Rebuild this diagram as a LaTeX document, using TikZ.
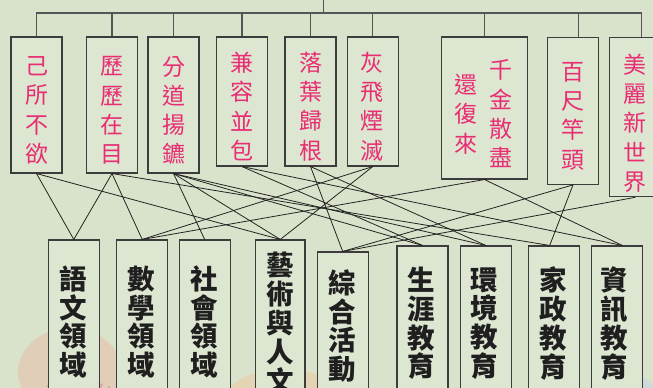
\documentclass[tikz,border=0pt]{standalone}
\usepackage{fontspec}
\newfontfamily\cjk{Noto Sans CJK TC}
\definecolor{bg}{RGB}{217,227,203}
\definecolor{boxfill}{RGB}{221,230,209}
\definecolor{boxline}{RGB}{60,60,60}
\definecolor{linecol}{RGB}{35,35,35}
\definecolor{busline}{RGB}{85,85,85}
\definecolor{pinktext}{RGB}{232,45,115}
\definecolor{shellA}{RGB}{232,190,172}
\definecolor{shellB}{RGB}{214,140,125}
\definecolor{shellC}{RGB}{236,200,160}
\definecolor{blueish}{RGB}{200,212,228}
\begin{document}
\begin{tikzpicture}[x=1pt,y=-1pt,
  tbox/.style={draw=boxline, line width=1.1pt, fill=boxfill, rectangle, inner sep=0pt, minimum width=51pt},
  ttext/.style={font=\cjk\fontsize{23}{29.3}\selectfont, text=pinktext, align=center, inner sep=0pt},
  bbox/.style={draw=boxline, line width=1.1pt, fill=boxfill, rectangle, inner sep=0pt, minimum width=51pt},
  btext/.style={font=\cjk\bfseries\fontsize{27.5}{28.8}\selectfont, text=black!88, align=center, inner sep=0pt},
  link/.style={draw=linecol, line width=0.8pt},
  busstyle/.style={draw=busline, line width=1.2pt},
]
\useasboundingbox (0,0) rectangle (653,388);
\clip (0,0) rectangle (653,388);
\fill[bg] (0,0) rectangle (653,388);
% faint decorative shells
\begin{scope}[opacity=0.55]
  \fill[shellA] (70,372) ellipse [x radius=52, y radius=44];
  \foreach \r in {10,18,26,34,42}{\draw[shellB, line width=2.2pt] (70,372) ++(150:\r) arc[start angle=150, end angle=20, radius=\r];}
  \fill[shellC] (285,392) ellipse [x radius=55, y radius=22];
  \fill[blueish] (622,388) ellipse [x radius=32, y radius=14];
\end{scope}

% top boxes
\node[tbox, minimum height=136pt] (t1) at (36.5,105) {};
\node[tbox, minimum height=136pt] (t2) at (112,105) {};
\node[tbox, minimum height=136pt] (t3) at (173.5,105) {};
\node[tbox, minimum height=129pt] (t4) at (242,101.5) {};
\node[tbox, minimum height=129pt] (t5) at (310.5,101.5) {};
\node[tbox, minimum height=129pt] (t6) at (372.8,101.5) {};
\node[tbox, minimum height=142pt, minimum width=85.6pt] (t7) at (484.5,108) {};
\node[tbox, minimum height=147.3pt] (t8) at (573,110.7) {};
\node[tbox, minimum height=159.7pt] (t9) at (635.3,116.9) {};

\node[ttext] (l1) at (36.5,110.5) {己\\所\\不\\欲};
\node[ttext] (l2) at (112,110.5) {歷\\歷\\在\\目};
\node[ttext] (l3) at (173.5,110.5) {分\\道\\揚\\鑣};
\node[ttext] (l4) at (242,106.5) {兼\\容\\並\\包};
\node[ttext] (l5) at (310.5,106.5) {落\\葉\\歸\\根};
\node[ttext] (l6) at (372,106.5) {灰\\飛\\煙\\滅};
\node[ttext] (l7a) at (500.5,114) {千\\金\\散\\盡};
\node[ttext] (l7b) at (466.3,114) {還\\復\\來};
\node[ttext] (l8) at (572.5,116) {百\\尺\\竿\\頭};
\node[ttext] (l9) at (635,123) {美\\麗\\新\\世\\界};

% bus
\coordinate (stem) at (323.5,0);
\coordinate (bus) at (323.5,13);
\coordinate (t8n) at (578.7,37);
\coordinate (t9n) at (641.3,37);
\draw[busstyle] (stem) -- (bus);
\draw[busstyle] (t1.north) -- (t1.north |- bus) -- (t9n |- bus) -- (t9n);
\foreach \n in {t2,t3,t4,t5,t6,t7}{\draw[busstyle] (\n.north) -- (\n.north |- bus);}
\draw[busstyle] (t8n) -- (t8n |- bus);

% bottom boxes
\node[bbox, minimum height=170pt] (b1) at (73.8,325) {};
\node[bbox, minimum height=170pt] (b2) at (142.2,325) {};
\node[bbox, minimum height=170pt] (b3) at (204.7,325) {};
\node[bbox, minimum height=170pt, minimum width=49.3pt] (b4) at (280.3,325) {};
\node[bbox, minimum height=158pt] (b5) at (342.7,331) {};
\node[bbox, minimum height=164pt] (b6) at (422.5,328) {};
\node[bbox, minimum height=164pt] (b7) at (485.8,328) {};
\node[bbox, minimum height=164pt] (b8) at (554.2,328) {};
\node[bbox, minimum height=164pt] (b9) at (616.8,328) {};

\node[btext] (m1) at (72.8,322) {語\\文\\領\\域};
\node[btext] (m2) at (140.8,322) {數\\學\\領\\域};
\node[btext] (m3) at (204.2,322) {社\\會\\領\\域};
\node[btext] (m4) at (280,323) {藝\\術\\與\\人\\文};
\node[btext] (m5) at (342.2,326) {綜\\合\\活\\動};
\node[btext] (m6) at (421.3,323.5) {生\\涯\\教\\育};
\node[btext] (m7) at (484.7,323.5) {環\\境\\教\\育};
\node[btext] (m8) at (553,323.5) {家\\政\\教\\育};
\node[btext] (m9) at (614.7,323.5) {資\\訊\\教\\育};

% connectors
\draw[link] (t1.south) -- (b1.north);
\draw[link] (t1.south) -- (b4.north);
\draw[link] (t2.south) -- (b1.north);
\draw[link] (t2.south) -- (b2.north);
\draw[link] (t2.south) -- ([xshift=-4.5pt]b8.north);
\draw[link] (t3.south) -- (b3.north);
\draw[link] (t3.south) -- (b4.north);
\draw[link] (t3.south) -- (b6.north);
\draw[link] (t3.south) -- (b7.north);
\draw[link] (t4.south) -- (b6.north);
\draw[link] (t4.south) -- ([xshift=5.5pt]b9.north);
\draw[link] (t5.south) -- (b5.north);
\draw[link] (t5.south) -- (b7.north);
\draw[link] (t6.south) -- (b2.north);
\draw[link] (t6.south) -- (b4.north);
\draw[link] (t7.south) -- (b2.north);
\draw[link] (t7.south) -- ([xshift=5.5pt]b9.north);
\draw[link] (t8.south) -- (b5.north);
\draw[link] (t8.south) -- ([xshift=-4.5pt]b8.north);
\draw[link] (t9.south) -- (b5.north);
\end{tikzpicture}
\end{document}
